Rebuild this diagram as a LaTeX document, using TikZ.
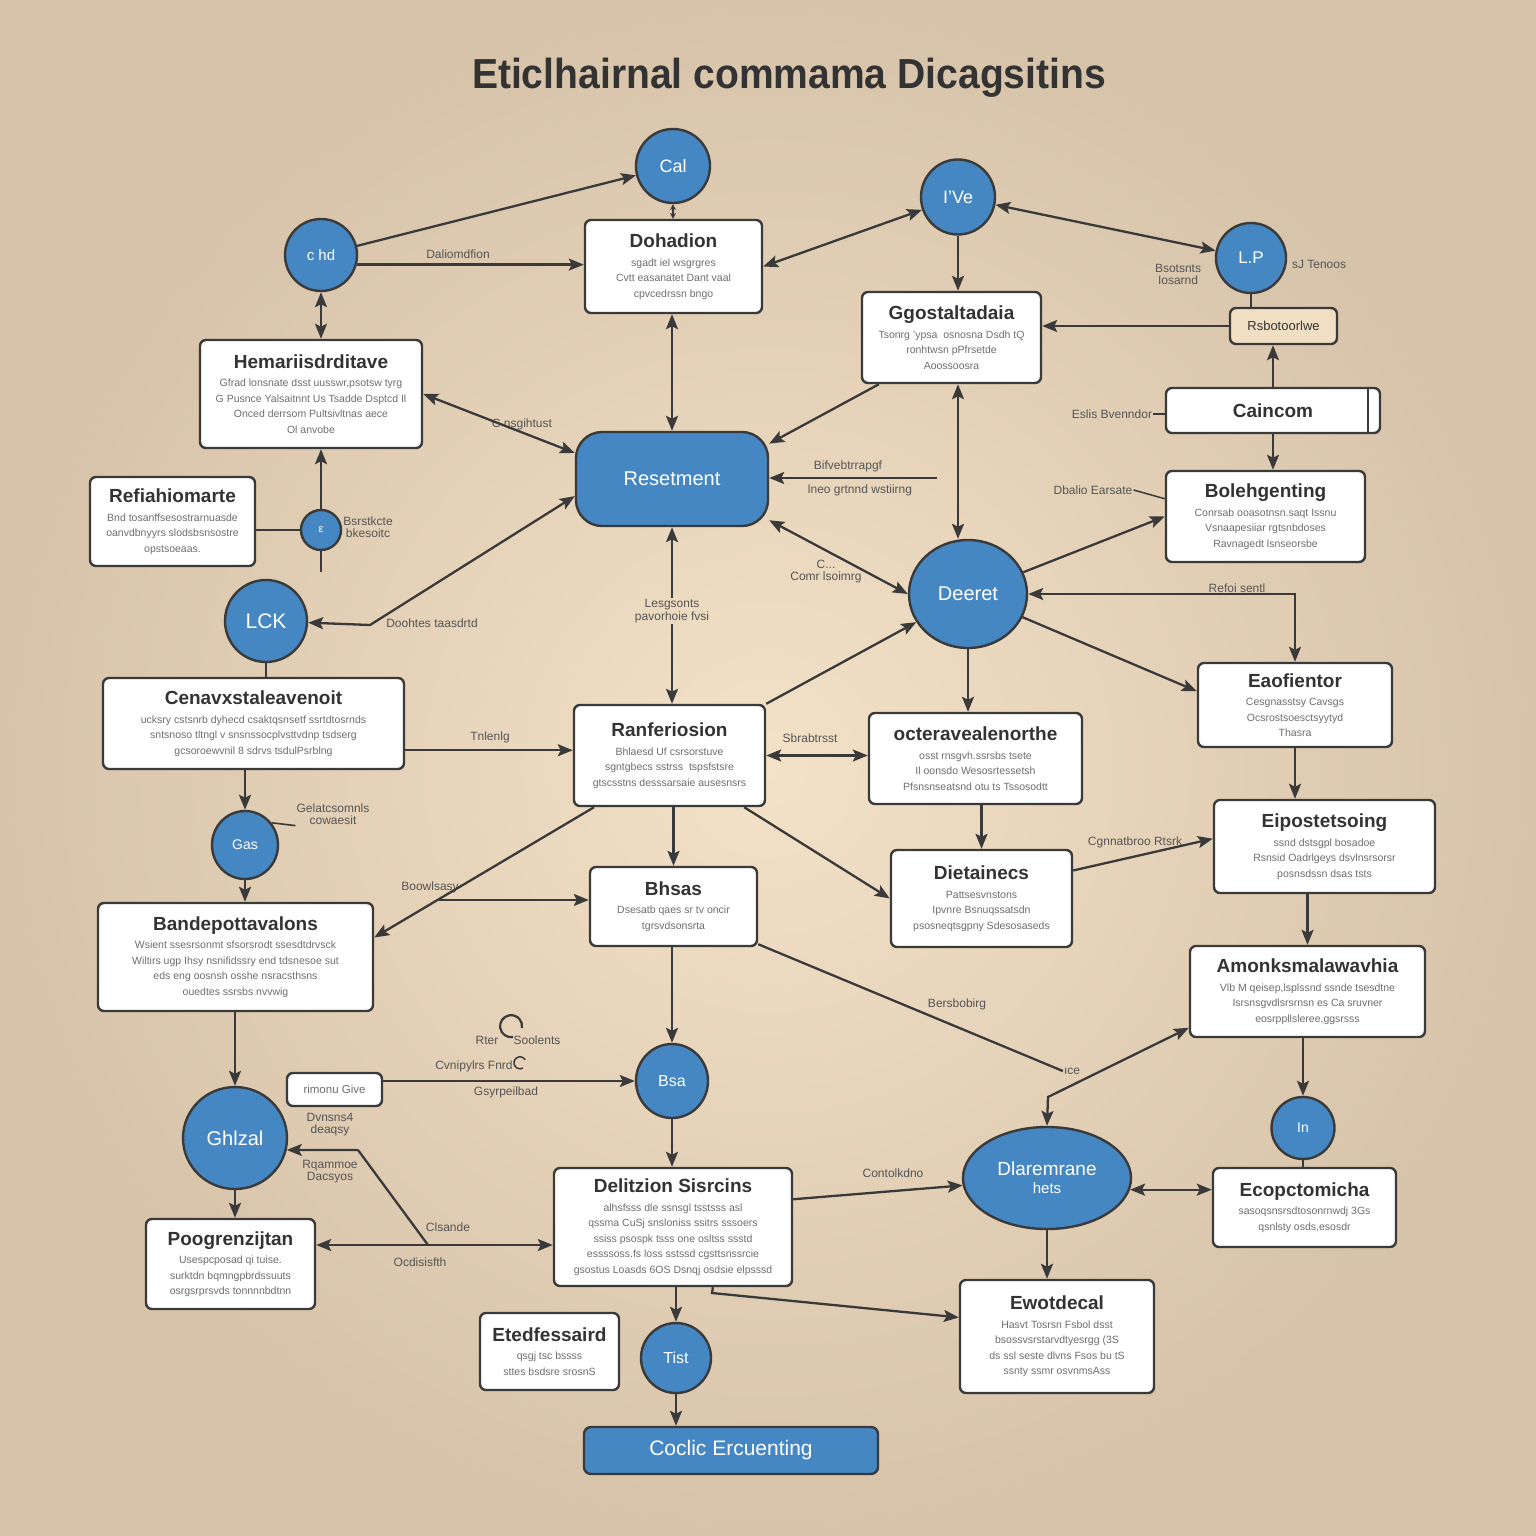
\documentclass[tikz,border=0pt]{standalone}
\usepackage{fontspec}
\setmainfont{Liberation Sans}
\usetikzlibrary{arrows.meta,shapes.geometric,calc}
\definecolor{bgin}{HTML}{F4E2C8}
\definecolor{bgout}{HTML}{D6C3A9}
\definecolor{ln}{HTML}{3A3A3A}
\definecolor{blu}{HTML}{4587C3}
\definecolor{bodyc}{HTML}{6E6E6E}
\definecolor{ttlc}{HTML}{333333}
\definecolor{labc}{HTML}{555555}
\definecolor{tanbox}{HTML}{F1DFC4}
\newcommand{\ttlf}{\fontsize{19}{22}\selectfont\bfseries}
\newcommand{\bdf}{\fontsize{10.5}{15.5}\selectfont}
\newcommand{\lbf}{\fontsize{12}{15}\selectfont}
\newcommand{\boxttl}[1]{{\color{ttlc}\ttlf #1}\\[3pt]}
\newcommand{\bfs}[1]{\fontsize{#1}{#1}\selectfont}
\tikzset{
 box/.style={draw=ln, line width=2.4pt, fill=white, rounded corners=6pt, align=center, inner sep=0pt, text=bodyc, font=\bdf},
 blob/.style={ellipse, draw=ln, line width=2.4pt, fill=blu, text=white, inner sep=0pt, align=center},
 conn/.style={draw=ln, line width=2.3pt},
 arr/.style={conn, -{Stealth[length=15pt,width=12pt,inset=3pt]}},
 darr/.style={conn, {Stealth[length=15pt,width=12pt,inset=3pt]}-{Stealth[length=15pt,width=12pt,inset=3pt]}},
 lab/.style={text=labc, font=\lbf, inner sep=1pt, align=center},
}
\begin{document}
\begin{tikzpicture}[x=1pt,y=-1pt]
\useasboundingbox (0,0) rectangle (1536,1536);
\shade[inner color=bgin, outer color=bgout] (0,0) rectangle (1536,1536);

% title
\node[text=ttlc, font=\fontsize{42}{46}\selectfont\bfseries] (title) at (789,78) {\scalebox{0.93}[1]{Eticlhairnal commama Dicagsitins}};

% circles
\node[blob, minimum width=74pt, minimum height=74pt, font=\bfs{18}] (c1) at (673,166) {Cal};
\node[blob, minimum width=72pt, minimum height=72pt, font=\bfs{15}] (c2) at (321,255) {c hd};
\node[blob, minimum width=74pt, minimum height=75pt, font=\bfs{18}] (c3) at (958,197) {I'Ve};
\node[blob, minimum width=70pt, minimum height=70pt, font=\bfs{17}] (c4) at (1251,258) {L.P};
\node[blob, minimum width=40pt, minimum height=40pt, font=\bfs{11}] (c5) at (321,530) {ε};
\node[blob, minimum width=82pt, minimum height=82pt, font=\bfs{21}] (c6) at (266,621) {LCK};
\node[blob, minimum width=118pt, minimum height=108pt, font=\bfs{20}] (c7) at (968,594) {Deeret};
\node[blob, minimum width=66pt, minimum height=68pt, font=\bfs{14}] (c8) at (245,845) {Gas};
\node[blob, minimum width=72pt, minimum height=74pt, font=\bfs{16}] (c9) at (672,1081) {Bsa};
\node[blob, minimum width=104pt, minimum height=102pt, font=\bfs{20}] (c10) at (235,1138) {Ghlzal};
\node[blob, minimum width=63pt, minimum height=62pt, font=\bfs{14}] (c11) at (1303,1128) {In};
\node[blob, minimum width=168pt, minimum height=102pt, font=\bfs{19}] (c12) at (1047,1178) {Dlaremrane\\[-1pt]{\bfs{15}hets}};
\node[blob, minimum width=70pt, minimum height=70pt, font=\bfs{16}] (c13) at (676,1358) {Tist};

% blue rounded rectangles
\node[draw=ln, line width=2.4pt, fill=blu, text=white, rounded corners=26pt, minimum width=192pt, minimum height=94pt, font=\bfs{20}] (res) at (672,479) {Resetment};
\node[draw=ln, line width=2.4pt, fill=blu, text=white, rounded corners=7pt, minimum width=294pt, minimum height=47pt, font=\bfs{21}] (bot) at (731,1450.5) {Coclic Ercuenting};

% white boxes
\node[box, minimum width=177pt, minimum height=93pt] (b1) at (673.5,266.5) {\boxttl{Dohadion}sgadt iel wsgrgres\\Cvtt easanatet Dant vaal\\cpvcedrssn bngo};
\node[box, minimum width=222pt, minimum height=108pt] (b2) at (311,394) {\boxttl{Hemariisdrditave}Gfrad lonsnate dsst uusswr,psotsw tyrg\\G Pusnce Yalsaitnnt Us Tsadde Dsptcd Il\\Onced derrsom Pultsivltnas aece\\Ol anvobe};
\node[box, minimum width=165pt, minimum height=89pt] (b3) at (172.5,521.5) {\boxttl{Refiahiomarte}Bnd tosanffsesostrarnuasde\\oanvdbnyyrs slodsbsnsostre\\opstsoeaas.};
\node[box, minimum width=179pt, minimum height=91pt] (b4) at (951.5,337.5) {\boxttl{Ggostaltadaia}Tsonrg 'ypsa\ \ osnosna Dsdh tQ\\ronhtwsn pPfrsetde\\Aoossoosra};
\node[box, fill=tanbox, minimum width=107pt, minimum height=36pt, text=ttlc, font=\fontsize{13}{15}\selectfont] (b5) at (1283.5,326) {Rsbotoorlwe};
\node[box, minimum width=214pt, minimum height=45pt, text=ttlc, font=\ttlf] (b6) at (1273,410.5) {Caincom};
\node[box, minimum width=199pt, minimum height=91pt] (b7) at (1265.5,516.5) {\boxttl{Bolehgenting}Conrsab ooasotnsn.saqt Issnu\\Vsnaapesiiar rgtsnbdoses\\Ravnagedt lsnseorsbe};
\node[box, minimum width=301pt, minimum height=91pt] (b8) at (253.5,723.5) {\boxttl{Cenavxstaleavenoit}ucksry cstsnrb dyhecd csaktqsnsetf ssrtdtosrnds\\sntsnoso tltngl v snsnssocplvsttvdnp tsdserg\\gcsoroewvnil 8 sdrvs tsdulPsrblng};
\node[box, minimum width=191pt, minimum height=101pt] (b9) at (669.5,755.5) {\boxttl{Ranferiosion}Bhlaesd Uf csrsorstuve\\sgntgbecs sstrss\ \ tspsfstsre\\gtscsstns desssarsaie ausesnsrs};
\node[box, minimum width=213pt, minimum height=91pt] (b10) at (975.5,758.5) {\boxttl{octeravealenorthe}osst rnsgvh.ssrsbs tsete\\Il oonsdo Wesosrtessetsh\\Pfsnsnseatsnd otu ts Tssosodtt};
\node[box, minimum width=194pt, minimum height=84pt] (b11) at (1295,705) {\boxttl{Eaofientor}Cesgnasstsy Cavsgs\\Ocsrostsoesctsyytyd\\Thasra};
\node[box, minimum width=167pt, minimum height=79pt] (b12) at (673.5,906.5) {\boxttl{Bhsas}Dsesatb qaes sr tv oncir\\tgrsvdsonsrta};
\node[box, minimum width=181pt, minimum height=97pt] (b13) at (981.5,898.5) {\boxttl{Dietainecs}Pattsesvnstons\\Ipvnre Bsnuqssatsdn\\psosneqtsgpny Sdesosaseds};
\node[box, minimum width=221pt, minimum height=93pt] (b14) at (1324.5,846.5) {\boxttl{Eipostetsoing}ssnd dstsgpl bosadoe\\Rsnsid Oadrlgeys dsvlnsrsorsr\\posnsdssn dsas tsts};
\node[box, minimum width=275pt, minimum height=108pt] (b15) at (235.5,957) {\boxttl{Bandepottavalons}Wsient ssesrsonmt sfsorsrodt ssesdtdrvsck\\Wiltirs ugp Ihsy nsnifidssry end tdsnesoe sut\\eds eng oosnsh osshe nsracsthsns\\ouedtes ssrsbs nvvwig};
\node[box, minimum width=235pt, minimum height=91pt] (b16) at (1307.5,991.5) {\boxttl{Amonksmalawavhia}Vlb M qeisep,lsplssnd ssnde tsesdtne\\Isrsnsgvdlsrsrnsn es Ca sruvner\\eosrppllsleree,ggsrsss};
\node[box, minimum width=95pt, minimum height=33pt, font=\fontsize{11.5}{13}\selectfont] (b17) at (334.5,1089.5) {rimonu Give};
\node[box, minimum width=169pt, minimum height=90pt] (b18) at (230.5,1264) {\boxttl{Poogrenzijtan}Usespcposad qi tuise.\\surktdn bqmngpbrdssuuts\\osrgsrprsvds tonnnnbdtnn};
\node[box, minimum width=238pt, minimum height=118pt] (b19) at (673,1227) {\boxttl{Delitzion Sisrcins}alhsfsss dle ssnsgl tsstsss asl\\qssma CuSj snsloniss ssitrs sssoers\\ssiss psospk tsss one osltss ssstd\\essssoss.fs loss sstssd cgsttsnssrcie\\gsostus Loasds 6OS Dsnqj osdsie elpsssd};
\node[box, minimum width=183pt, minimum height=79pt] (b20) at (1304.5,1207.5) {\boxttl{Ecopctomicha}sasoqsnsrsdtosonrnwdj 3Gs\\qsnlsty osds,esosdr};
\node[box, minimum width=139pt, minimum height=77pt] (b21) at (549.5,1351.5) {\boxttl{Etedfessaird}qsgj tsc bssss\\sttes bsdsre srosnS};
\node[box, minimum width=194pt, minimum height=113pt] (b22) at (1057,1336.5) {\boxttl{Ewotdecal}Hasvt Tosrsn Fsbol dsst\\bsossvsrstarvdtyesrgg (3S\\ds ssl seste dlvns Fsos bu tS\\ssnty ssmr osvnmsAss};

% tab line in Caincom
\draw[conn] ([xshift=-13pt]b6.north east) -- ([xshift=-13pt]b6.south east);

% labels
\node[lab] (l2) at (458,254) {Daliomdfion};
\node[lab] (l6) at (522,424) {C nsgihtust};
\node[lab] (l14) at (1112,414) {Eslis Bvenndor};
\node[lab] (l17a) at (848,466) {Bifvebtrrapgf};
\node[lab] (l17b) at (860,490) {lneo grtnnd wstiirng};
\node[lab] (l18) at (1093,490) {Dbalio Earsate};
\node[lab] (l19) at (826,572) {C...\\[-3pt]Comr lsoimrg};
\node[lab] (l9a) at (1178,274) {Bsotsnts\\[-3pt]Iosarnd};
\node[lab] (l9b) at (1319,264) {sJ Tenoos};
\node[lab] (l20) at (1237,588) {Refoi sentl};
\node[lab] (l23) at (672,611) {Lesgsonts\\[-2pt]pavorhoie fvsi};
\node[lab] (l24) at (432,623) {Doohtes taasdrtd};
\node[lab] (l25) at (368,527) {Bsrstkcte\\[-3pt]bkesoitc};
\node[lab] (l27) at (490,737) {Tnlenlg};
\node[lab] (l28) at (810,738) {Sbrabtrsst};
\node[lab] (l31) at (333,814) {Gelatcsomnls\\[-3pt]cowaesit};
\node[lab] (l33) at (430,887) {Boowlsasy};
\node[lab] (l39) at (1135,842) {Cgnnatbroo Rtsrk};
\node[lab] (l41a) at (957,1004) {Bersbobirg};
\node[lab] (l41) at (1072,1071) {ıce};
\node[lab] (l45a) at (518,1040) {Rter\quad\ Soolents};
\node[lab] (l45b) at (474,1066) {Cvnipylrs Fnrd};
\node[lab] (l45c) at (506,1092) {Gsyrpeilbad};
\node[lab] (l46a) at (330,1125) {Dvnsns4\\[-3pt]deaqsy};
\node[lab] (l46b) at (330,1172) {Rqammoe\\[-3pt]Dacsyos};
\node[lab] (l46c) at (448,1227) {Clsande};
\node[lab] (l46d) at (420,1262) {Ocdisisfth};
\node[lab] (l49) at (893,1173) {Contolkdno};
\draw[ln, line width=2.2pt] (513,1037) arc[start angle=80, end angle=370, radius=11];
\draw[ln, line width=1.5pt] (523,1068) arc[start angle=60, end angle=330, radius=6];

% connectors
\draw[arr] (c2) -- (c1);
\draw[arr] (c2.-15) -- (c2.-15 -| b1.west);
\draw[conn, {Stealth[length=6pt,width=6pt]}-{Stealth[length=6pt,width=6pt]}] (c1) -- (c1 |- b1.north);
\draw[darr] (c2) -- (c2 |- b2.north);
\draw[darr] (b1.south -| res) -- (res);
\draw[darr] (b2.east) -- (res.165);
\draw[darr] (b1.east) -- (c3);
\draw[arr] (c3) -- (c3 |- b4.north);
\draw[darr] (c4) -- (c3);
\draw[conn] (c4) -- (c4 |- b5.north);
\draw[arr] (b5.west) -- (b5.west -| b4.east);
\draw[arr] (b6.north) -- (b6.north |- b5.south);
\draw[arr] (b6.south) -- (b6.south |- b7.north);
\draw[conn, line width=1.5pt] (l14.east) -- (l14.east -| b6.west);
\draw[arr] ($(b4.south west)!0.1!(b4.south east)$) -- (res.20);
\draw[darr] (c3 |- b4.south) -- (c3 |- c7.north);
\coordinate (f17) at (937,478);
\draw[arr] (f17) -- (f17 -| res.east);
\draw[arr] (c7) -- (b7.west);
\draw[conn, line width=1.5pt] (l18.east) -- (b7.170);
\draw[darr] (res.-23) -- (c7.west);
\draw[darr] (c7.east) -| (b11.north);
\draw[arr] (c7) -- (b11.172);
\draw[arr] (c7) -- (c7 |- b10.north);
\draw[arr] (l23.north) -- (l23.north |- res.south);
\draw[arr] (l23.south) -- (l23.south |- b9.north);
\coordinate (k24) at (370,625);
\draw[darr] (res.190) -- (k24) -- (c6);
\draw[conn] (c5.west -| b3.east) -- (c5.west);
\draw[arr] (c5) -- (c5 |- b2.south);
\coordinate (f25) at (321,572);
\draw[conn] (c5) -- (f25);
\draw[conn] (c6) -- (c6 |- b8.north);
\draw[arr] (b8.-10) -- (b8.-10 -| b9.west);
\draw[darr] (b9.east) -- (b9.east -| b10.west);
\draw[arr] (b9.north east) -- (c7);
\draw[arr] (c8 |- b8.south) -- (c8);
\draw[conn, line width=1.6pt] (c8.40) -- (l31.south west);
\draw[arr] (c8) -- (c8 |- b15.north);
\coordinate (s33) at ($(b9.south west)!0.11!(b9.south east)$);
\draw[arr] (s33) -- (b15.8);
\coordinate (k34) at ($(s33)!0.712!(b15.8)$);
\draw[arr] (k34) -- (k34 -| b12.west);
\draw[arr] (b12 |- b9.south) -- (b12.north);
\draw[arr] ($(b9.south west)!0.886!(b9.south east)$) -- (b13.west);
\draw[arr] (b13 |- b10.south) -- (b13.north);
\draw[arr] (b11.south) -- (b11.south |- b14.north);
\draw[arr] (b13.17) -- (b14.176);
\draw[arr] (b16 |- b14.south) -- (b16.north);
\draw[conn] (b12.-24) -- (l41.west);
\coordinate (k42) at (1048,1097);
\draw[darr] (b16.197) -- (k42) -- (c12.north);
\draw[arr] (c9 |- b12.south) -- (c9);
\draw[arr] (c10 |- b15.south) -- (c10);
\draw[arr] (b17.east |- c9) -- (c9);
\coordinate (k46a) at (358,1150);
\coordinate (k46b) at (428,1245);
\draw[arr] (k46a) -- (c10.-13);
\draw[conn] (k46a) -- (k46b);
\draw[arr] (k46b) -- (k46b -| b18.east);
\draw[arr] (k46b) -- (k46b -| b19.west);
\draw[arr] (c10) -- (c10 |- b18.north);
\draw[arr] (c9) -- (c9 |- b19.north);
\draw[arr] (b19.13) -- (c12.185);
\draw[darr] (c12.-8) -- (c12.-8 -| b20.west);
\draw[conn] (c11) -- (c11 |- b20.north);
\draw[arr] (c11 |- b16.south) -- (c11);
\draw[arr] (c12) -- (c12 |- b22.north);
\coordinate (k54) at ($(b19.south west)!0.666!(b19.south east)$);
\coordinate (k54b) at (712,1293);
\draw[arr] (k54) -- (k54b) -- (b22.169);
\draw[arr] (c13 |- b19.south) -- (c13);
\draw[arr] (c13) -- (c13 |- bot.north);
\end{tikzpicture}
\end{document}
